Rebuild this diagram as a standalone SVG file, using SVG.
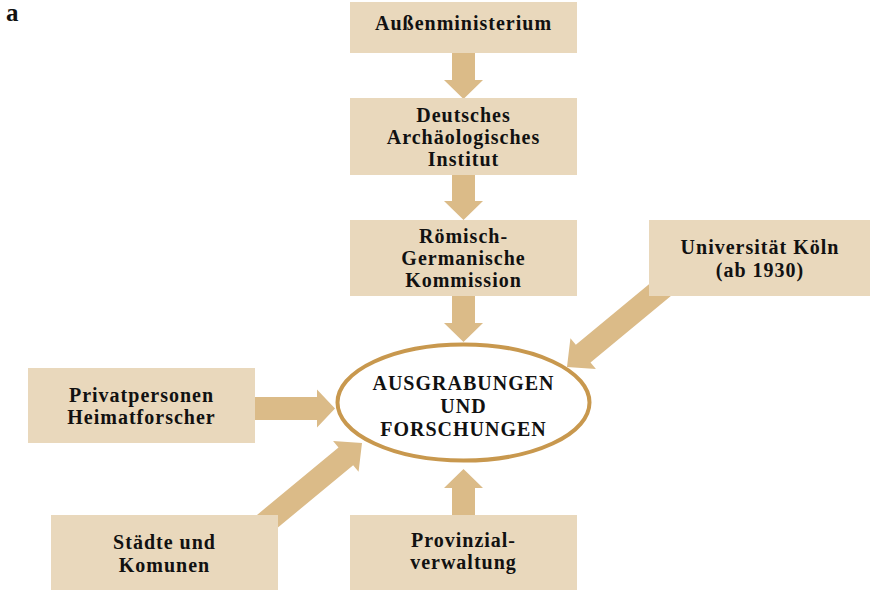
<svg xmlns="http://www.w3.org/2000/svg" width="872" height="590" viewBox="0 0 872 590">
<style>
.box{fill:#E9D8BC;}
.arr{fill:#DBBB88;}
.t{font-family:"Liberation Serif","Times New Roman",serif;font-weight:bold;font-size:20px;fill:#111;text-anchor:middle;letter-spacing:1px;}
.c{font-family:"Liberation Serif","Times New Roman",serif;font-weight:bold;font-size:20px;fill:#111;text-anchor:middle;letter-spacing:1px;}
</style>
<defs>
<polygon id="a46" points="-46,-11.5 -19,-11.5 -19,-19.5 0,0 -19,19.5 -19,11.5 -46,11.5"/>
<polygon id="a80" points="-80,-11.5 -18,-11.5 -18,-19 0,0 -18,19 -18,11.5 -80,11.5"/>
<polygon id="a150" points="-150,-11.5 -21,-11.5 -21,-20 0,0 -21,20 -21,11.5 -150,11.5"/>
</defs>
<rect width="872" height="590" fill="#fff"/>
<text x="6" y="21" style="font-family:'Liberation Serif',serif;font-weight:bold;font-size:25px;fill:#111;">a</text>
<g id="connectors">
<use href="#a46" class="arr" transform="translate(463.5,99) rotate(90)"/>
<use href="#a46" class="arr" transform="translate(463.5,220) rotate(90)"/>
<use href="#a46" class="arr" transform="translate(463.5,342) rotate(90)"/>
<use href="#a46" class="arr" transform="translate(463.5,469) rotate(-90)"/>
<use href="#a80" class="arr" transform="translate(335,408.5)"/>
<use href="#a150" class="arr" transform="translate(362,443) rotate(-39.6)"/>
<use href="#a150" class="arr" transform="translate(567,367) rotate(140.4)"/>
</g>
<g id="aussenministerium">
<rect class="box" x="350" y="2" width="227" height="51"/>
<text class="t" x="463.5" y="30">Außenministerium</text>
</g>
<g id="dai">
<rect class="box" x="350" y="98" width="227" height="77"/>
<text class="t" x="463.5" y="122">Deutsches</text>
<text class="t" x="463.5" y="144">Archäologisches</text>
<text class="t" x="463.5" y="166">Institut</text>
</g>
<g id="rgk">
<rect class="box" x="350" y="220" width="227" height="76"/>
<text class="t" x="463.5" y="243">Römisch-</text>
<text class="t" x="463.5" y="265">Germanische</text>
<text class="t" x="463.5" y="287">Kommission</text>
</g>
<g id="koeln">
<rect class="box" x="649" y="220" width="221" height="76"/>
<text class="t" x="760" y="254">Universität Köln</text>
<text class="t" x="760" y="277">(ab 1930)</text>
</g>
<g id="privat">
<rect class="box" x="28" y="368" width="227" height="75"/>
<text class="t" x="141.5" y="402">Privatpersonen</text>
<text class="t" x="141.5" y="424">Heimatforscher</text>
</g>
<g id="ausgrabungen">
<ellipse cx="463.5" cy="402.5" rx="126" ry="58" fill="#fff" stroke="#C8984E" stroke-width="4"/>
<text class="c" x="463.5" y="390">AUSGRABUNGEN</text>
<text class="c" x="463.5" y="413">UND</text>
<text class="c" x="463.5" y="436">FORSCHUNGEN</text>
</g>
<g id="staedte">
<rect class="box" x="51" y="515" width="227" height="75"/>
<text class="t" x="164.5" y="549">Städte und</text>
<text class="t" x="164.5" y="572">Komunen</text>
</g>
<g id="provinzial">
<rect class="box" x="350" y="515" width="227" height="75"/>
<text class="t" x="463.5" y="547">Provinzial-</text>
<text class="t" x="463.5" y="569">verwaltung</text>
</g>
</svg>
